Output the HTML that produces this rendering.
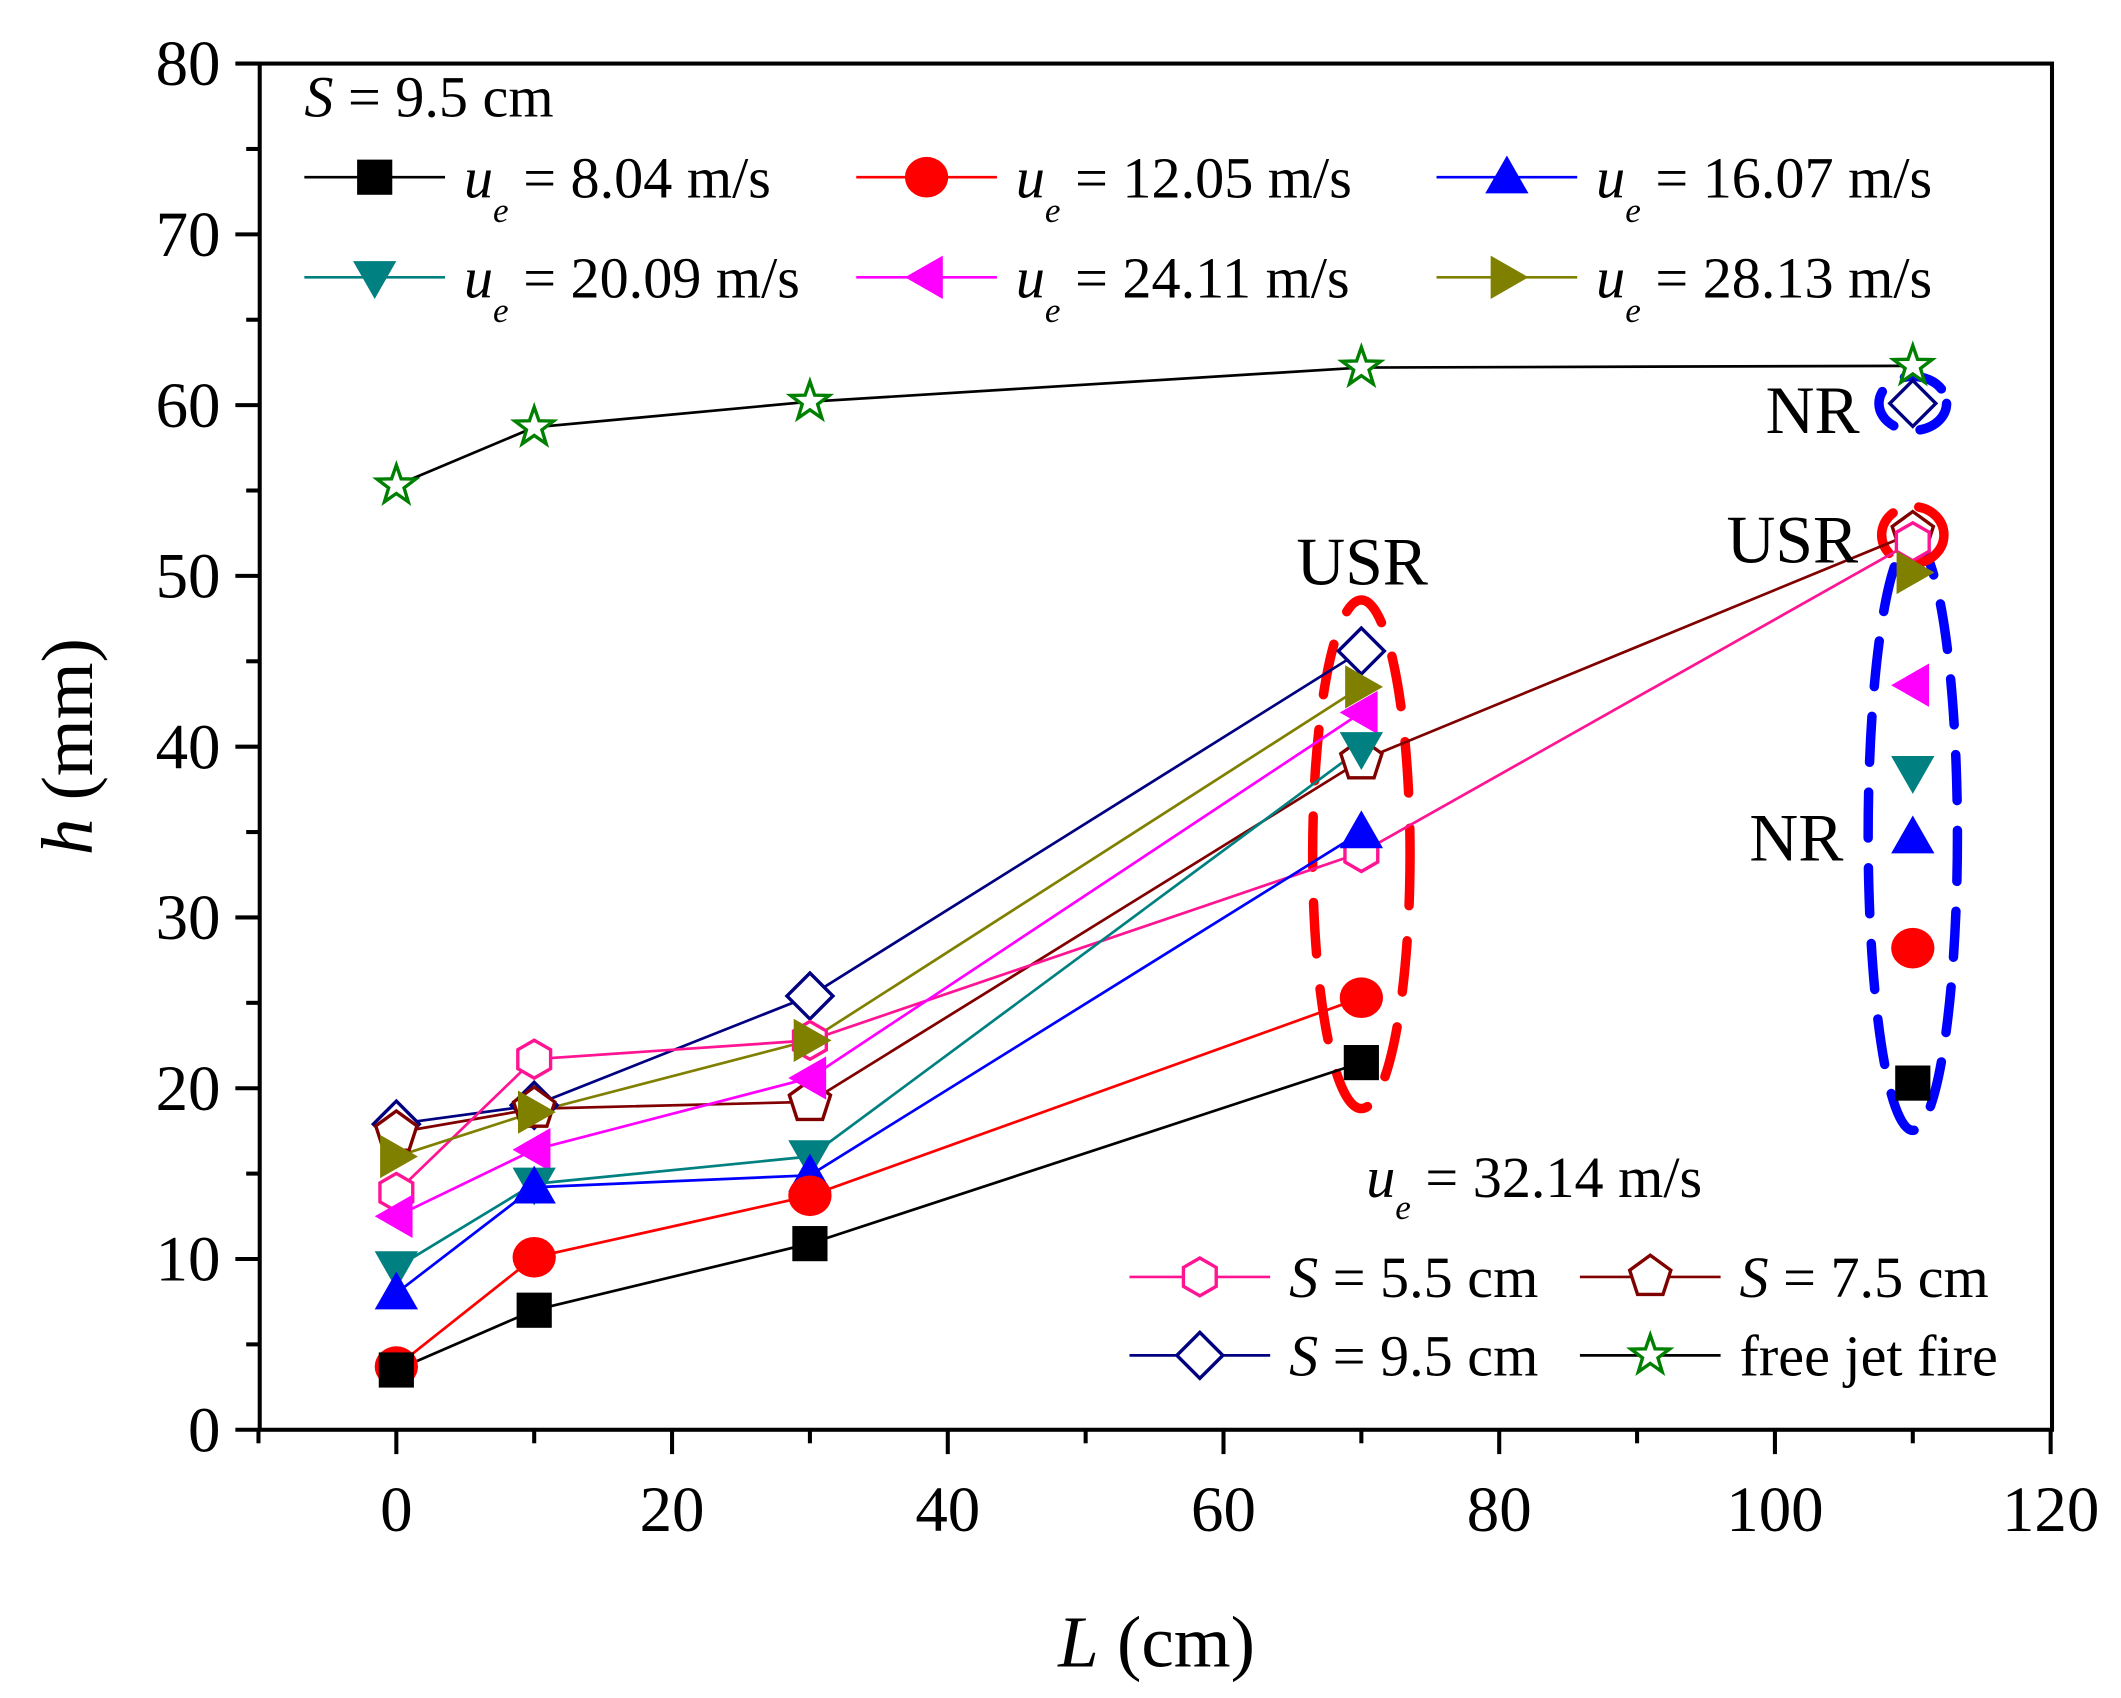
<!DOCTYPE html>
<html><head><meta charset="utf-8"><style>
html,body{margin:0;padding:0;background:#fff;}
svg{display:block;font-family:"Liberation Serif",serif;}
</style></head><body>
<svg id="chart" xmlns="http://www.w3.org/2000/svg" width="2121" height="1698" viewBox="0 0 1568 1255.3">
<rect x="0" y="0" width="1568" height="1256" fill="#fff"/>
<g id="ellipses"></g>
<g id="lines"></g>
<g id="marks"></g>
<rect x="192" y="47" width="1325" height="1010" fill="none" stroke="#000" stroke-width="3"/>
<g id="axes"></g>
<text transform="translate(68,552) rotate(-90)" text-anchor="middle" font-size="54"><tspan font-style="italic">h</tspan> (mm)</text>
<text x="855" y="1232" text-anchor="middle" font-size="54"><tspan font-style="italic">L</tspan> (cm)</text>
<text x="225" y="86" font-size="43"><tspan font-style="italic">S</tspan> = 9.5 cm</text>
<text x="1007" y="432" text-anchor="middle" font-size="50">USR</text>
<text x="1325" y="416" text-anchor="middle" font-size="50">USR</text>
<text x="1340" y="320" text-anchor="middle" font-size="50">NR</text>
<text x="1328" y="636" text-anchor="middle" font-size="50">NR</text>
<text x="1010" y="885" font-size="43"><tspan font-style="italic">u</tspan><tspan font-style="italic" font-size="26" dy="16">e</tspan><tspan dy="-16"> = 32.14 m/s</tspan></text>
<g id="legend"></g>
</svg>
<script>
const xVals = [0, 10, 30, 70, 110];
const ue804 = [3.5, 7.0, 10.9, 21.5, 20.3];
const ue1205 = [3.7, 10.1, 13.7, 25.3, 28.2];
const ue1607 = [8.0, 14.2, 14.9, 35.0, 34.7];
const ue2009 = [9.5, 14.4, 16.0, 39.9, 38.5];
const ue2411 = [12.5, 16.4, 20.6, 42.0, 43.6];
const ue2813 = [16.0, 18.6, 22.8, 43.5, 50.2];
const s55 = [13.9, 21.7, 22.8, 33.8, 52.0];
const s75 = [17.4, 18.8, 19.2, 39.2, 52.5];
const s95 = [17.9, 19.0, 25.4, 45.6, 60.1];
const freeJet = [55.3, 58.7, 60.2, 62.2, 62.3];
const xTicks = [0, 20, 40, 60, 80, 100, 120];
const yTicks = [0, 10, 20, 30, 40, 50, 60, 70, 80];

const NS = "http://www.w3.org/2000/svg";
const X = v => 293 + (v) * (1516 - 293) / 120;
const Y = v => 1057 - v * (1010 / 80);
function mk(tag, attrs, parent) {
  const e = document.createElementNS(NS, tag);
  for (const k in attrs) e.setAttribute(k, attrs[k]);
  parent.appendChild(e);
  return e;
}
const gl = document.getElementById('lines'), gm = document.getElementById('marks'),
      ga = document.getElementById('axes'), gleg = document.getElementById('legend'),
      gel = document.getElementById('ellipses');

function marker(type, cx, cy, color, parent, name) {
  let e; const r = 14;
  if (type === 'square') e = mk('rect', {x: cx - 13, y: cy - 13, width: 26, height: 26, fill: color}, parent);
  else if (type === 'circle') e = mk('ellipse', {cx, cy, rx: 16, ry: 15, fill: color}, parent);
  else {
    let pts;
    if (type === 'up') pts = [[0,-16],[16,12],[-16,12]];
    else if (type === 'down') pts = [[-16,-12],[16,-12],[0,16]];
    else if (type === 'left') pts = [[-16,0],[12,-16],[12,16]];
    else if (type === 'right') pts = [[16,0],[-12,-16],[-12,16]];
    else if (type === 'diamond') pts = [[0,-17],[17,0],[0,17],[-17,0]];
    else if (type === 'hex') { pts = []; for (let i = 0; i < 6; i++) { const a = Math.PI/6 + i*Math.PI/3; pts.push([r*Math.cos(a), r*Math.sin(a)]); } }
    else if (type === 'pent') { pts = []; for (let i = 0; i < 5; i++) { const a = -Math.PI/2 + i*2*Math.PI/5; pts.push([16*Math.cos(a), 16*Math.sin(a)]); } }
    else if (type === 'star') { pts = []; for (let i = 0; i < 10; i++) { const a = -Math.PI/2 + i*Math.PI/5; const rr = i%2 ? 6 : 15; pts.push([rr*Math.cos(a), rr*Math.sin(a)]); } }
    const hollow = ['diamond','hex','pent','star'].includes(type);
    e = mk('polygon', {points: pts.map(p => (cx+p[0])+','+(cy+p[1])).join(' '),
      fill: hollow ? '#fff' : color, stroke: hollow ? color : 'none', 'stroke-width': hollow ? 2.5 : 0}, parent);
  }
  
  
  return e;
}

const series = [
  {d: freeJet, type: 'star', color: '#008000', line: '#000', n: 5, name: 'free-jet'},
  {d: s95, type: 'diamond', color: '#000080', line: '#000080', n: 4, name: 's95'},
  {d: s75, type: 'pent', color: '#800000', line: '#800000', n: 5, name: 's75'},
  {d: s55, type: 'hex', color: '#ff1493', line: '#ff1493', n: 5, name: 's55'},
  {d: ue2813, type: 'right', color: '#808000', line: '#808000', n: 4, name: 'ue-2813'},
  {d: ue2411, type: 'left', color: '#ff00ff', line: '#ff00ff', n: 4, name: 'ue-2411'},
  {d: ue2009, type: 'down', color: '#008080', line: '#008080', n: 4, name: 'ue-2009'},
  {d: ue1607, type: 'up', color: '#0000ff', line: '#0000ff', n: 4, name: 'ue-1607'},
  {d: ue1205, type: 'circle', color: '#ff0000', line: '#ff0000', n: 4, name: 'ue-1205'},
  {d: ue804, type: 'square', color: '#000', line: '#000', n: 4, name: 'ue-804'},
];
series.forEach(s => {
  const pts = [];
  for (let i = 0; i < s.n; i++) pts.push(X(xVals[i]) + ',' + Y(s.d[i]));
  const pl = mk('polyline', {points: pts.join(' '), fill: 'none', stroke: s.line, 'stroke-width': 2}, gl);
  
  
});
series.forEach(s => {
  s.d.forEach((v, i) => marker(s.type, X(xVals[i]), Y(v), s.color, gm, 'point-' + s.name + '-' + xVals[i]));
});

function ell(cx, cy, rx, ry, color, name, dash) {
  const e = mk('ellipse', {cx, cy, rx, ry, fill: 'none', stroke: color, 'stroke-width': 7, 'stroke-dasharray': dash, 'stroke-linecap': 'round'}, gel);
  
  
}
ell(X(70), Y(33.7), 36, 188, '#ff0000', 'usr-ellipse-70', '38 26');
ell(X(110), Y(34.8), 33, 218, '#0000ff', 'nr-ellipse-110', '34 22');
ell(X(110), Y(60.1), 25, 20, '#0000ff', 'nr-ellipse-top', '30 20');
ell(X(110), Y(52.4), 23, 21, '#ff0000', 'usr-ellipse-110', '34 20');

for (let v = -10; v <= 120; v += 10) {
  const major = xTicks.includes(v);
  const t = mk('line', {x1: X(v), x2: X(v), y1: 1057, y2: 1057 + (major ? 18 : 10), stroke: '#000', 'stroke-width': 3}, ga);
  
  
}
xTicks.forEach(v => {
  const t = mk('text', {x: X(v), y: 1132, 'text-anchor': 'middle', 'font-size': 48}, ga);
  t.textContent = v;
  
  
});
for (let v = 0; v <= 80; v += 5) {
  const major = yTicks.includes(v);
  const t = mk('line', {x1: 192 - (major ? 18 : 10), x2: 192, y1: Y(v), y2: Y(v), stroke: '#000', 'stroke-width': 3}, ga);
  
  
}
yTicks.forEach(v => {
  const t = mk('text', {x: 163, y: Y(v) + 16, 'text-anchor': 'end', 'font-size': 48}, ga);
  t.textContent = v;
  
  
});

const legItems = [
  {x: 225, y: 131, type: 'square', color: '#000', label: ' = 8.04 m/s', ue: true},
  {x: 633, y: 131, type: 'circle', color: '#ff0000', label: ' = 12.05 m/s', ue: true},
  {x: 1062, y: 131, type: 'up', color: '#0000ff', label: ' = 16.07 m/s', ue: true},
  {x: 225, y: 205, type: 'down', color: '#008080', label: ' = 20.09 m/s', ue: true},
  {x: 633, y: 205, type: 'left', color: '#ff00ff', label: ' = 24.11 m/s', ue: true},
  {x: 1062, y: 205, type: 'right', color: '#808000', label: ' = 28.13 m/s', ue: true},
  {x: 835, y: 944, type: 'hex', color: '#ff1493', line: '#ff1493', label: ' = 5.5 cm'},
  {x: 1168, y: 944, type: 'pent', color: '#800000', line: '#800000', label: ' = 7.5 cm'},
  {x: 835, y: 1002, type: 'diamond', color: '#000080', line: '#000080', label: ' = 9.5 cm'},
  {x: 1168, y: 1002, type: 'star', color: '#008000', line: '#000', label: 'free jet fire', plain: true},
];
legItems.forEach((it, i) => {
  const g = mk('g', {}, gleg);
  
  
  const lc = it.line || it.color;
  mk('line', {x1: it.x, x2: it.x + 104, y1: it.y, y2: it.y, stroke: lc, 'stroke-width': 2}, g);
  marker(it.type, it.x + 52, it.y, it.color, g, 'legend-marker');
  const t = mk('text', {x: it.x + 118, y: it.y + 15, 'font-size': 43}, g);
  if (it.ue) {
    t.innerHTML = '<tspan font-style="italic">u</tspan><tspan font-style="italic" font-size="26" dy="18">e</tspan><tspan dy="-18">' + it.label + '</tspan>';
  } else if (it.plain) {
    t.textContent = it.label;
  } else {
    t.innerHTML = '<tspan font-style="italic">S</tspan>' + it.label;
  }
});
</script>
</body></html>
